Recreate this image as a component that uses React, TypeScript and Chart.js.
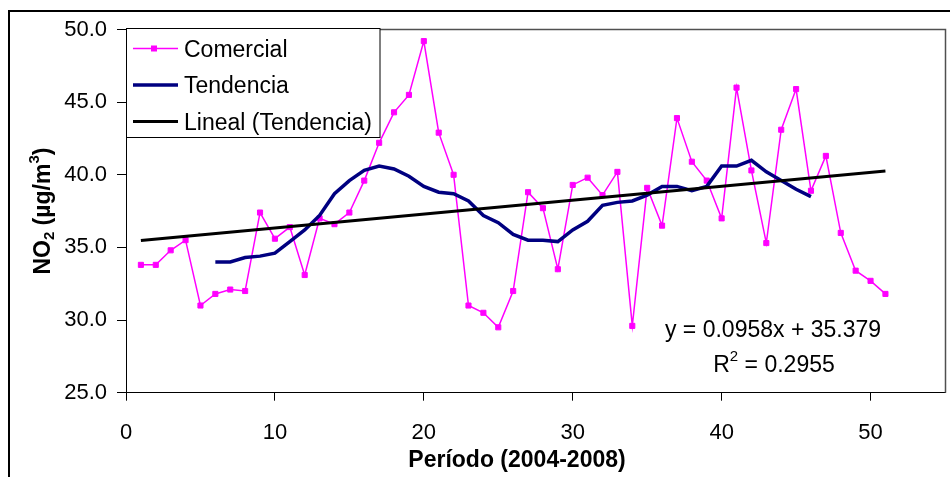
import React, { useEffect, useRef } from "react";
import { Chart, registerables } from "chart.js";
Chart.register(...registerables);

// ---------- DATA ----------
const periodos = [
  1, 2, 3, 4, 5, 6, 7, 8, 9, 10, 11, 12, 13, 14, 15, 16, 17, 18, 19, 20, 21, 22, 23, 24, 25,
  26, 27, 28, 29, 30, 31, 32, 33, 34, 35, 36, 37, 38, 39, 40, 41, 42, 43, 44, 45, 46, 47, 48,
  49, 50, 51,
];
const comercial = [
  33.8, 33.8, 34.8, 35.5, 31.0, 31.8, 32.1, 32.0, 37.4, 35.6,
  36.4, 33.1, 37.0, 36.6, 37.4, 39.6, 42.2, 44.3, 45.5, 49.2,
  42.9, 40.0, 31.0, 30.5, 29.5, 32.0, 38.8, 37.7, 33.5, 39.3,
  39.8, 38.6, 40.2, 29.6, 39.1, 36.5, 43.9, 40.9, 39.6, 37.0,
  46.0, 40.3, 35.3, 43.1, 45.9, 38.9, 41.3, 36.0, 33.4, 32.7,
  31.8,
];
const tendenciaPeriodos = [
  6, 7, 8, 9, 10, 11, 12, 13, 14, 15, 16, 17, 18, 19, 20, 21, 22, 23, 24, 25, 26,
  27, 28, 29, 30, 31, 32, 33, 34, 35, 36, 37, 38, 39, 40, 41, 42, 43, 44, 45, 46,
];
const tendencia = [
  34.0, 34.0, 34.3, 34.4, 34.6, 35.4, 36.2, 37.2, 38.7, 39.6, 40.3,
  40.6, 40.4, 39.9, 39.2, 38.8, 38.7, 38.2, 37.2, 36.7, 35.9,
  35.5, 35.5, 35.4, 36.2, 36.8, 37.9, 38.1, 38.2, 38.6, 39.2,
  39.2, 38.9, 39.2, 40.6, 40.6, 41.0, 40.2, 39.6, 39.0, 38.5,
];
const linealPendiente = 0.0958;
const linealOrdenada = 35.379;
const linealR2 = "0.2955";
const linealPeriodos = [1, 51];
const xTicks = [0, 10, 20, 30, 40, 50];
const yTicks = [25, 30, 35, 40, 45, 50];
const xLimits = [0, 55];
const yLimits = [25, 50];

const FONT = "'Liberation Sans', Arial, Helvetica, sans-serif";
const MAGENTA = "#FF00FF";
const NAVY = "#000080";
const BLACK = "#000000";

const overlayPlugin = {
  id: "overlay",
  afterDraw(chart: any) {
    const ctx: CanvasRenderingContext2D = chart.ctx;
    const { left, right, top, bottom } = chart.chartArea;
    ctx.save();

    // outer chart border (top & left visible)
    ctx.strokeStyle = BLACK;
    ctx.lineWidth = 2;
    ctx.beginPath();
    ctx.moveTo(9, 477);
    ctx.lineTo(9, 11);
    ctx.lineTo(950, 11);
    ctx.stroke();

    // plot area border top/right
    ctx.strokeStyle = "#505050";
    ctx.lineWidth = 1.5;
    ctx.beginPath();
    ctx.moveTo(left, top);
    ctx.lineTo(right + 0.5, top);
    ctx.lineTo(right + 0.5, bottom);
    ctx.stroke();

    // legend box
    const lx = 126.5, ly = 28.5, lw = 253.5, lh = 109;
    ctx.fillStyle = "#FFFFFF";
    ctx.fillRect(lx, ly, lw, lh);
    ctx.strokeStyle = BLACK;
    ctx.lineWidth = 1;
    ctx.strokeRect(lx, ly, lw, lh);

    const items = chart.data.datasets.map((d: any) => ({
      label: d.label,
      color: d.borderColor,
      width: d.borderWidth,
      marker: d.pointRadius > 0,
    }));
    const rowsY = [48.5, 85, 121.5];
    ctx.font = `23px ${FONT}`;
    ctx.textAlign = "left";
    ctx.textBaseline = "alphabetic";
    items.forEach((it: any, i: number) => {
      const y = rowsY[i];
      ctx.strokeStyle = it.color;
      ctx.lineWidth = it.width;
      ctx.beginPath();
      ctx.moveTo(133, y);
      ctx.lineTo(178, y);
      ctx.stroke();
      if (it.marker) {
        ctx.fillStyle = it.color;
        ctx.fillRect(151, y - 3, 6, 6);
      }
      ctx.fillStyle = BLACK;
      ctx.fillText(it.label, 184, y + 8);
    });

    // equation
    ctx.fillStyle = BLACK;
    ctx.font = `23px ${FONT}`;
    ctx.textAlign = "center";
    ctx.fillText(`y = ${linealPendiente}x + ${linealOrdenada}`, 773, 337);
    // R^2 line
    const partA = "R";
    const partSup = "2";
    const partB = ` = ${linealR2}`;
    ctx.font = `23px ${FONT}`;
    const wA = ctx.measureText(partA).width;
    const wB = ctx.measureText(partB).width;
    ctx.font = `15px ${FONT}`;
    const wS = ctx.measureText(partSup).width;
    const total = wA + wS + wB;
    let sx = 774 - total / 2;
    ctx.textAlign = "left";
    ctx.font = `23px ${FONT}`;
    ctx.fillText(partA, sx, 372);
    sx += wA;
    ctx.font = `15px ${FONT}`;
    ctx.fillText(partSup, sx, 361);
    sx += wS;
    ctx.font = `23px ${FONT}`;
    ctx.fillText(partB, sx, 372);

    // x title
    ctx.font = `bold 23px ${FONT}`;
    ctx.textAlign = "center";
    ctx.fillText("Período (2004-2008)", 517, 467);

    // y title rotated
    ctx.save();
    ctx.translate(50, (top + bottom) / 2);
    ctx.rotate(-Math.PI / 2);
    const segs = [
      { t: "NO", f: `bold 23px ${FONT}`, dy: 0 },
      { t: "2", f: `bold 15px ${FONT}`, dy: 4 },
      { t: " (µg/m", f: `bold 23px ${FONT}`, dy: 0 },
      { t: "3", f: `bold 15px ${FONT}`, dy: -11 },
      { t: ")", f: `bold 23px ${FONT}`, dy: 0 },
    ];
    let tw = 0;
    segs.forEach((s) => {
      ctx.font = s.f;
      tw += ctx.measureText(s.t).width;
    });
    let px = -tw / 2;
    ctx.textAlign = "left";
    segs.forEach((s) => {
      ctx.font = s.f;
      ctx.fillText(s.t, px, s.dy);
      px += ctx.measureText(s.t).width;
    });
    ctx.restore();

    ctx.restore();
  },
};

export default function App() {
  const ref = useRef<HTMLCanvasElement | null>(null);
  useEffect(() => {
    if (!ref.current) return;
    const chart = new Chart(ref.current, {
      type: "line",
      data: {
        datasets: [
          {
            label: "Comercial",
            data: periodos.map((p, i) => ({ x: p, y: comercial[i] })),
            borderColor: MAGENTA,
            backgroundColor: MAGENTA,
            borderWidth: 1.5,
            pointStyle: "rect",
            pointRadius: 3.6,
            pointBorderWidth: 1,
            pointBackgroundColor: MAGENTA,
            pointBorderColor: MAGENTA,
            tension: 0,
            order: 3,
          },
          {
            label: "Tendencia",
            data: tendenciaPeriodos.map((p, i) => ({ x: p, y: tendencia[i] })),
            borderColor: NAVY,
            backgroundColor: NAVY,
            borderWidth: 3.5,
            pointRadius: 0,
            tension: 0,
            order: 2,
          },
          {
            label: "Lineal (Tendencia)",
            data: linealPeriodos.map((p) => ({ x: p, y: linealPendiente * p + linealOrdenada })),
            borderColor: BLACK,
            backgroundColor: BLACK,
            borderWidth: 3,
            pointRadius: 0,
            tension: 0,
            order: 1,
          },
        ],
      },
      options: {
        animation: false,
        responsive: false,
        devicePixelRatio: 1,
        layout: { padding: { left: 0, top: 29.5, right: 3, bottom: 0 } },
        plugins: {
          legend: { display: false },
          tooltip: { enabled: false },
          title: { display: false },
        },
        scales: {
          x: {
            type: "linear",
            min: xLimits[0],
            max: xLimits[1],
            afterBuildTicks: (s: any) => {
              s.ticks = xTicks.map((v) => ({ value: v }));
            },
            afterFit: (s: any) => {
              s.height = 84.3;
            },
            ticks: {
              color: BLACK,
              font: { family: FONT, size: 22 },
              padding: 19,
              maxRotation: 0,
              autoSkip: false,
              callback: (v: any) => String(v),
            },
            grid: { display: true, drawOnChartArea: false, drawTicks: true, tickLength: 8, color: BLACK },
            border: { display: true, color: BLACK, width: 1 },
          },
          y: {
            type: "linear",
            min: yLimits[0],
            max: yLimits[1],
            afterBuildTicks: (s: any) => {
              s.ticks = yTicks.map((v) => ({ value: v }));
            },
            afterFit: (s: any) => {
              s.width = 126;
            },
            ticks: {
              color: BLACK,
              font: { family: FONT, size: 22 },
              padding: 10,
              autoSkip: false,
              callback: (v: any) => Number(v).toFixed(1),
            },
            grid: { display: true, drawOnChartArea: false, drawTicks: true, tickLength: 9, color: BLACK },
            border: { display: true, color: BLACK, width: 1 },
          },
        },
      },
      plugins: [overlayPlugin],
    } as any);
    return () => chart.destroy();
  }, []);
  return (
    <div style={{ position: "absolute", left: 0, top: 0, width: 950, height: 477, background: "#fff" }}>
      <canvas ref={ref} width={950} height={477} style={{ display: "block", width: 950, height: 477 }} />
    </div>
  );
}
